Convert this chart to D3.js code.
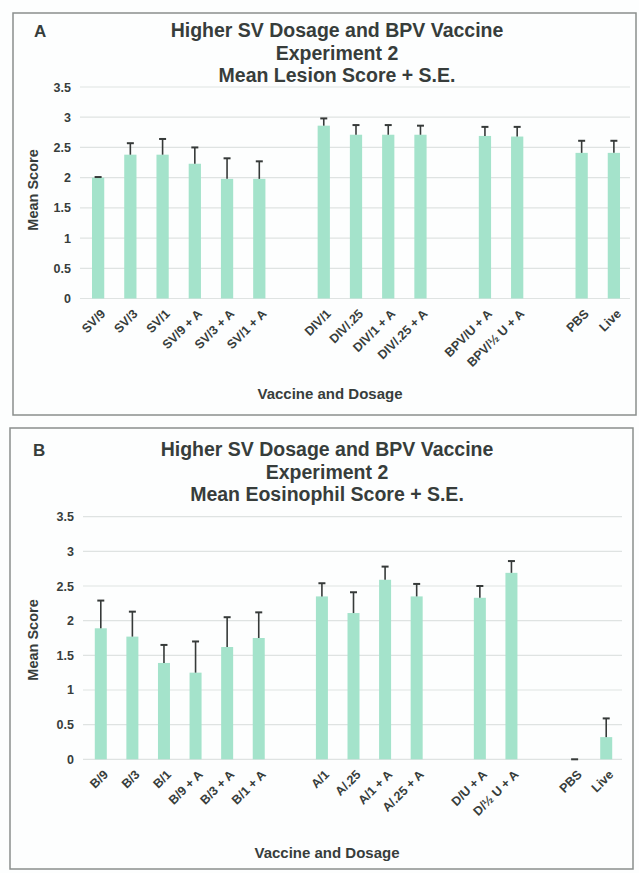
<!DOCTYPE html>
<html>
<head>
<meta charset="utf-8">
<script src="https://cdn.jsdelivr.net/npm/d3@7"></script>
<style>
  body { margin: 0; background: #fdfefe; }
  svg text { font-family: "Liberation Sans", Arial, sans-serif; font-weight: bold; fill: #373d3b; }
</style>
</head>
<body>
<div id="chart"></div>
<script>
// panel A - lesion score
const titleA = ["Higher SV Dosage and BPV Vaccine", "Experiment 2", "Mean Lesion Score + S.E."];
const categoriesA = ["SV/9", "SV/3", "SV/1", "SV/9 + A", "SV/3 + A", "SV/1 + A",
  "DIV/1", "DIV/.25", "DIV/1 + A", "DIV/.25 + A",
  "BPV/U + A", "BPV/\u00bd U + A",
  "PBS", "Live"];
const groupsA = [6, 4, 2, 2];
const meansA = [2.00, 2.38, 2.38, 2.23, 1.98, 1.98, 2.86, 2.71, 2.71, 2.71, 2.69, 2.68, 2.41, 2.41];
const errorsA = [0.01, 0.19, 0.26, 0.27, 0.34, 0.29, 0.12, 0.16, 0.16, 0.15, 0.15, 0.16, 0.20, 0.20];

// panel B - eosinophil score
const titleB = ["Higher SV Dosage and BPV Vaccine", "Experiment 2", "Mean Eosinophil Score + S.E."];
const categoriesB = ["B/9", "B/3", "B/1", "B/9 + A", "B/3 + A", "B/1 + A",
  "A/1", "A/.25", "A/1 + A", "A/.25 + A",
  "D/U + A", "D/\u00bd U + A",
  "PBS", "Live"];
const groupsB = [6, 4, 2, 2];
const meansB = [1.89, 1.77, 1.39, 1.25, 1.62, 1.75, 2.35, 2.11, 2.59, 2.35, 2.33, 2.69, 0.00, 0.32];
const errorsB = [0.40, 0.36, 0.26, 0.45, 0.43, 0.37, 0.19, 0.30, 0.19, 0.18, 0.17, 0.17, 0.00, 0.27];

const yTicks = [0, 0.5, 1, 1.5, 2, 2.5, 3, 3.5];
const xTitle = "Vaccine and Dosage";
const yTitle = "Mean Score";

const svg = d3.select("#chart").append("svg")
  .attr("width", 639)
  .attr("height", 873);

// slot keys with an empty slot between groups
function buildSlots(cats, groups) {
  let slots = [];
  let i = 0;
  groups.forEach((g, gi) => {
    for (let k = 0; k < g; k++) slots.push(cats[i++]);
    if (gi < groups.length - 1) slots.push("gap" + gi);
  });
  return slots;
}

function drawPanel(p) {
  // border of the panel
  svg.append("rect")
    .attr("x", p.box[0]).attr("y", p.box[1])
    .attr("width", p.box[2]).attr("height", p.box[3])
    .attr("fill", "#fdfefe")
    .attr("stroke", "#8a8f8d")
    .attr("stroke-width", 1.5);

  svg.append("text")
    .attr("x", p.letterX).attr("y", p.titleY)
    .attr("font-size", 17)
    .text(p.letter);

  p.title.forEach((t, i) => {
    svg.append("text")
      .attr("x", p.titleX)
      .attr("y", p.titleY + i * 22.5)
      .attr("text-anchor", "middle")
      .attr("font-size", 19.5)
      .text(t);
  });

  let slots = buildSlots(p.categories, p.groups);

  let x = d3.scaleBand()
    .domain(slots)
    .range(p.xRange)
    .paddingInner(0.62)
    .paddingOuter(0.31);

  let y = d3.scaleLinear()
    .domain([0, 3.5])
    .range(p.yRange);

  // gridlines
  svg.append("g")
    .selectAll("line")
    .data(yTicks)
    .enter()
    .append("line")
    .attr("x1", p.xRange[0] - 2)
    .attr("x2", p.xRange[1])
    .attr("y1", d => y(d))
    .attr("y2", d => y(d))
    .attr("stroke", "#dfe3e2")
    .attr("stroke-width", 1.2);

  // y axis labels
  let yAxis = svg.append("g")
    .attr("transform", "translate(" + (p.xRange[0] - 2) + ",0)")
    .call(d3.axisLeft(y).tickValues(yTicks).tickSize(0).tickPadding(9).tickFormat(d3.format("")));
  yAxis.select(".domain").remove();
  yAxis.selectAll("text")
    .attr("font-size", 12.5)
    .attr("font-family", "Liberation Sans, Arial, sans-serif")
    .attr("font-weight", "bold");

  // bars
  svg.append("g")
    .selectAll("rect")
    .data(p.means)
    .enter()
    .append("rect")
    .attr("x", (d, i) => x(p.categories[i]))
    .attr("y", d => y(d))
    .attr("width", x.bandwidth())
    .attr("height", d => y(0) - y(d))
    .attr("fill", "#a4e3cb");

  // error bars, upper half only
  let err = svg.append("g")
    .attr("stroke", "#363a39");
  p.means.forEach((m, i) => {
    let cx = x(p.categories[i]) + x.bandwidth() / 2;
    err.append("line")
      .attr("x1", cx).attr("x2", cx)
      .attr("y1", y(m)).attr("y2", y(m + p.errors[i]))
      .attr("stroke-width", 1.6);
    err.append("line")
      .attr("x1", cx - 3.5).attr("x2", cx + 3.5)
      .attr("y1", y(m + p.errors[i])).attr("y2", y(m + p.errors[i]))
      .attr("stroke-width", 2);
  });

  // x labels rotated
  svg.append("g")
    .selectAll("text")
    .data(p.categories)
    .enter()
    .append("text")
    .attr("text-anchor", "end")
    .attr("font-size", 12.5)
    .attr("transform", d => "translate(" + (x(d) + x.bandwidth() / 2 + 8) + "," + (y(0) + 16) + ") rotate(-45)")
    .text(d => d);

  svg.append("text")
    .attr("x", p.xTitleX)
    .attr("y", p.xTitleY)
    .attr("text-anchor", "middle")
    .attr("font-size", 15)
    .text(xTitle);

  svg.append("text")
    .attr("transform", "translate(" + p.yTitleX + "," + p.yTitleY + ") rotate(-90)")
    .attr("text-anchor", "middle")
    .attr("font-size", 14.5)
    .text(yTitle);
}

drawPanel({
  box: [13, 13, 623, 402],
  letter: "A", letterX: 34,
  title: titleA, titleX: 337, titleY: 37,
  categories: categoriesA, groups: groupsA, means: meansA, errors: errorsA,
  xRange: [82, 630], yRange: [298.5, 87],
  xTitleX: 330, xTitleY: 399,
  yTitleX: 38, yTitleY: 190
});

drawPanel({
  box: [10, 428, 623, 441],
  letter: "B", letterX: 33,
  title: titleB, titleX: 327, titleY: 456,
  categories: categoriesB, groups: groupsB, means: meansB, errors: errorsB,
  xRange: [85, 622], yRange: [759.3, 516.7],
  xTitleX: 327, xTitleY: 858,
  yTitleX: 38, yTitleY: 640
});
</script>
</body>
</html>
